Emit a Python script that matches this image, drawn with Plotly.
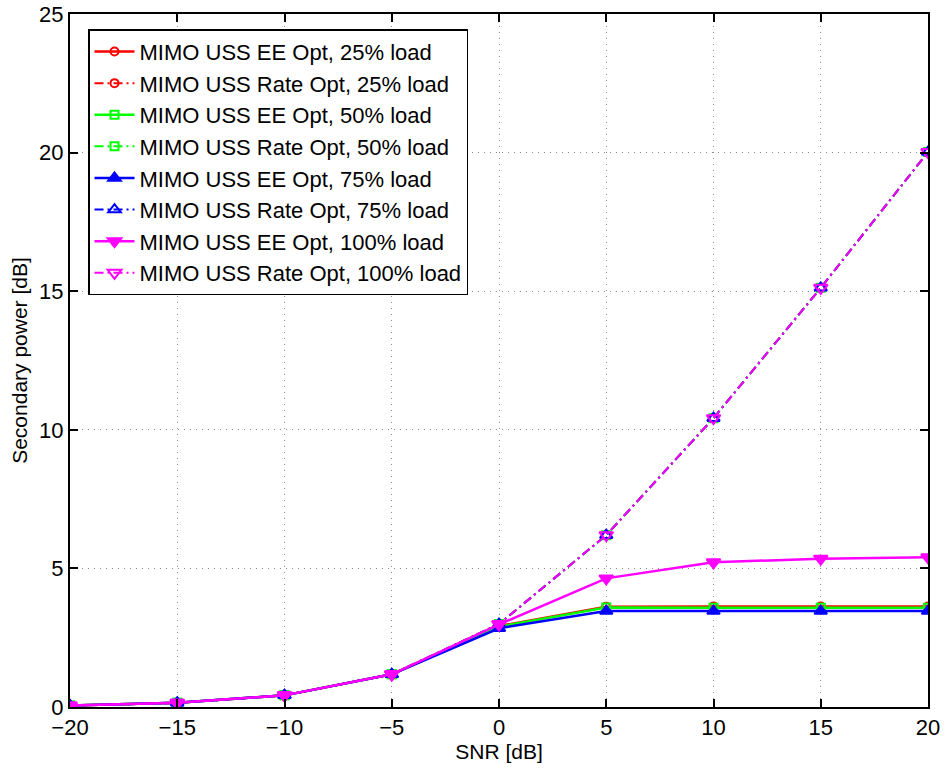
import plotly.graph_objects as go

snr = [-20, -15, -10, -5, 0, 5, 10, 15, 20]
ee_25 = [0.05, 0.15, 0.42, 1.18, 2.92, 3.62, 3.63, 3.63, 3.63]
rate_25 = [0.05, 0.15, 0.42, 1.18, 2.99, 6.20, 10.42, 15.12, 20.02]
ee_50 = [0.05, 0.15, 0.42, 1.18, 2.90, 3.59, 3.58, 3.58, 3.58]
rate_50 = [0.05, 0.15, 0.42, 1.18, 2.99, 6.20, 10.42, 15.12, 20.02]
ee_75 = [0.05, 0.15, 0.42, 1.18, 2.84, 3.46, 3.46, 3.46, 3.46]
rate_75 = [0.05, 0.15, 0.42, 1.18, 2.99, 6.20, 10.42, 15.12, 20.02]
ee_100 = [0.05, 0.15, 0.42, 1.18, 2.98, 4.64, 5.22, 5.35, 5.40]
rate_100 = [0.05, 0.15, 0.42, 1.18, 2.99, 6.20, 10.42, 15.12, 20.02]

names = [
    "MIMO USS EE Opt, 25% load",
    "MIMO USS Rate Opt, 25% load",
    "MIMO USS EE Opt, 50% load",
    "MIMO USS Rate Opt, 50% load",
    "MIMO USS EE Opt, 75% load",
    "MIMO USS Rate Opt, 75% load",
    "MIMO USS EE Opt, 100% load",
    "MIMO USS Rate Opt, 100% load",
]
series = [ee_25, rate_25, ee_50, rate_50, ee_75, rate_75, ee_100, rate_100]
colors = ["#ff0000", "#ff0000", "#00ff00", "#00ff00", "#0000ff", "#0000ff", "#ff00ff", "#ff00ff"]
symbols = ["circle-open", "circle-open", "square-open", "square-open",
           "triangle-up", "triangle-up-open", "triangle-down", "triangle-down-open"]
sizes = [8, 8, 8, 8, 11, 11, 12, 12]

FONT = "Liberation Sans, Arial, sans-serif"

fig = go.Figure()
for i, (nm, ys) in enumerate(zip(names, series)):
    is_rate = (i % 2 == 1)
    fig.add_trace(go.Scatter(
        x=snr, y=ys, name=nm, mode="lines+markers",
        line=dict(color=colors[i], width=2 if is_rate else 2.5,
                  dash="9px,4px,2px,4px" if is_rate else "solid"),
        marker=dict(symbol=symbols[i], size=sizes[i], color=colors[i],
                    line=dict(color=colors[i], width=2)),
    ))

axis_common = dict(
    showline=True, linecolor="black", linewidth=2, mirror="ticks",
    ticks="inside", ticklen=8, tickwidth=1.5, tickcolor="black",
    showgrid=True, gridcolor="#8c8c8c", gridwidth=1, griddash="1px,5px",
    zeroline=False, automargin=False,
    tickfont=dict(family=FONT, size=22, color="black"),
    title_font=dict(family=FONT, size=21, color="black"),
)

fig.update_xaxes(range=[-20, 20], dtick=5, tick0=-20, title_text="SNR [dB]",
                 title_standoff=4, **axis_common)
fig.update_yaxes(range=[0, 25], dtick=5, tick0=0, title_text="Secondary power [dB]",
                 title_standoff=6, **axis_common)

fig.update_layout(
    width=946, height=769,
    margin=dict(l=70, r=18, t=14, b=62),
    plot_bgcolor="white", paper_bgcolor="white",
    font=dict(family=FONT, color="black"),
    legend=dict(
        x=0.021, y=0.978, xanchor="left", yanchor="top",
        bgcolor="white", bordercolor="black", borderwidth=1.5,
        font=dict(family=FONT, size=22, color="black"),
        tracegroupgap=0, itemwidth=40,
    ),
    showlegend=True,
)

fig.write_html("out.html")
